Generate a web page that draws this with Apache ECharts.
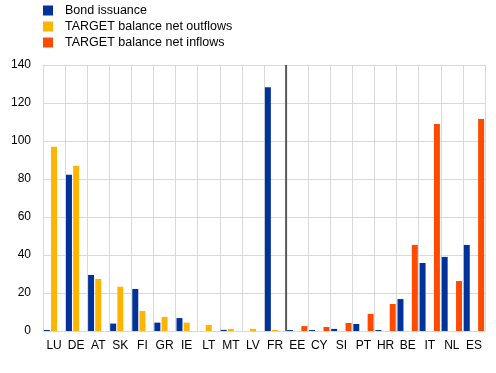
<!DOCTYPE html>
<html>
<head>
<meta charset="utf-8">
<script src="https://cdn.jsdelivr.net/npm/echarts@6/dist/echarts.min.js"></script>
<style>html,body{margin:0;padding:0;background:#fff}#c{width:496px;height:373px}</style>
</head>
<body>
<div id="c"></div>
<script>
const categories = ['LU','DE','AT','SK','FI','GR','IE','LT','MT','LV','FR','EE','CY','SI','PT','HR','BE','IT','NL','ES'];
const bondIssuance = [0.5,82.3,29.5,3.9,22.1,4.4,6.8,0,0.6,0,128.3,0.5,0.5,1.1,3.7,0.5,16.8,35.8,39,45.3];
const netOutflows = [97,87,27.4,23.3,10.5,7.4,4.4,3.2,1.1,1.1,0.6,0,0,0,0,0,0,0,0,0];
const netInflows = [0,0,0,0,0,0,0,0,0,0,0,2.6,2.1,4.2,9.0,14.2,45.3,109,26.3,111.6];
const yTicks = {min:0, max:140, interval:20};
const separatorAt = 11; // boundary between FR and EE (category count before separator)
const seriesNames = ['Bond issuance','TARGET balance net outflows','TARGET balance net inflows'];
const colors = ['#003299','#FFB400','#FF4B00'];

const chart = echarts.init(document.getElementById('c'), null, {renderer:'canvas'});
const font = 'Liberation Sans, Arial, sans-serif';
chart.setOption({
  animation:false,
  textStyle:{fontFamily:font},
  legend:{
    data:seriesNames, orient:'vertical', left:38, top:4, padding:[0,5,5,5],
    itemWidth:10, itemHeight:10, itemGap:3, icon:'rect',
    textStyle:{fontFamily:font, fontSize:12.5, color:'#000', padding:[0,0,0,7]}
  },
  grid:{left:43, right:11, top:65, bottom:42},
  xAxis:[{
    type:'category', data:categories,
    axisLine:{show:true, lineStyle:{color:'#d9d9d9', width:1}},
    axisTick:{show:false},
    axisLabel:{interval:0, fontFamily:font, fontSize:12, color:'#000', margin:9},
    splitLine:{show:true, interval:0, lineStyle:{color:'#d9d9d9', width:1}}
  },{
    type:'value', min:0, max:categories.length, show:false
  }],
  yAxis:{
    type:'value', min:yTicks.min, max:yTicks.max, interval:yTicks.interval,
    axisLine:{show:true, lineStyle:{color:'#d9d9d9'}},
    axisTick:{show:false},
    axisLabel:{fontFamily:font, fontSize:12, color:'#000', margin:12},
    splitLine:{lineStyle:{color:'#d9d9d9', width:1}}
  },
  series:[
    {name:seriesNames[0], type:'bar', data:bondIssuance, itemStyle:{color:colors[0]}, barCategoryGap:'8%', barGap:'20%'},
    {name:seriesNames[1], type:'bar', data:netOutflows, itemStyle:{color:colors[1]}, barCategoryGap:'8%', barGap:'20%'},
    {name:seriesNames[2], type:'bar', data:netInflows, itemStyle:{color:colors[2]}, barCategoryGap:'8%', barGap:'20%'},
    {name:'separator', type:'line', xAxisIndex:1, data:[[separatorAt,yTicks.min],[separatorAt,yTicks.max]],
     symbol:'none', silent:true, lineStyle:{color:'#595959', width:2}, z:5}
  ]
});
</script>
</body>
</html>
